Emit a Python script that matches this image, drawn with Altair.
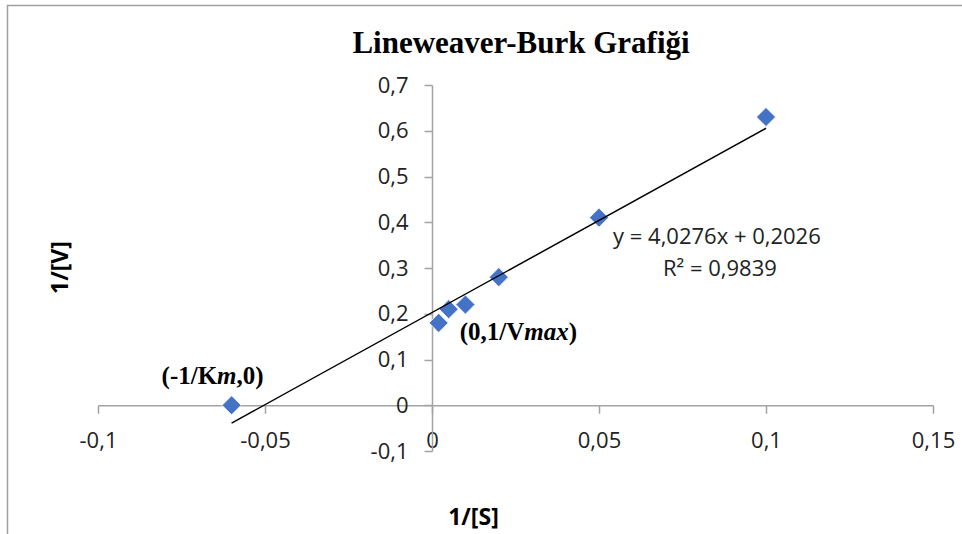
import altair as alt
import pandas as pd

# ---- values ----
inv_s = [-0.06, 0.002, 0.005, 0.01, 0.02, 0.05, 0.1]      # 1/[S]
inv_v = [0.0, 0.18, 0.21, 0.22, 0.28, 0.41, 0.63]         # 1/[V]
x_ticks = [-0.1, -0.05, 0, 0.05, 0.1, 0.15]
y_ticks = [-0.1, 0, 0.1, 0.2, 0.3, 0.4, 0.5, 0.6, 0.7]
eq_text = ["y = 4,0276x + 0,2026", "R² = 0,9839"]
km_parts = ["(-1/K", "m", ",0)"]
vmax_parts = ["(0,1/V", "max", ")"]
chart_title = ["Lineweaver-Burk Grafiği"]
x_title = "1/[S]"
y_title = "1/[V]"

df = pd.DataFrame({"x": inv_s, "y": inv_v})

W, H = 835, 366
XD = [-0.1, 0.15]
YD = [-0.1, 0.7]
x_axis_off = -H * (0 - YD[0]) / (YD[1] - YD[0])   # bottom axis moved up to y=0
y_axis_off = -W * (0 - XD[0]) / (XD[1] - XD[0])   # left axis moved right to x=0
x_group_y = H + x_axis_off
y_group_x = -y_axis_off

AXIS_GREY = "#a3a3a3"
TXT = "#222222"
label_expr = "replace(toString(datum.value), '.', ',')"

xs = alt.Scale(domain=XD, nice=False, zero=False)
ys = alt.Scale(domain=YD, nice=False, zero=False)

x_axis = alt.Axis(
    values=x_ticks, labelExpr=label_expr, offset=x_axis_off, orient="bottom",
    grid=False, domainColor=AXIS_GREY, tickColor=AXIS_GREY, domainWidth=1.5,
    tickWidth=1.5, tickSize=8, labelFont="Open Sans", labelFontSize=22,
    labelColor=TXT, labelPadding=17, labelFlush=False, labelOverlap=False,
    title=x_title, titleFont="Open Sans", titleFontSize=23, titleFontWeight="bold",
    titleColor="black", titleX=375, titleY=517 - 85 - x_group_y,
    titleAlign="center", titleBaseline="middle",
)
y_axis = alt.Axis(
    values=y_ticks, labelExpr=label_expr, offset=y_axis_off, orient="left",
    grid=False, domainColor=AXIS_GREY, tickColor=AXIS_GREY, domainWidth=1.5,
    tickWidth=1.5, tickSize=8, labelFont="Open Sans", labelFontSize=22,
    labelColor=TXT, labelPadding=16, labelFlush=False, labelOverlap=False,
    title=y_title, titleFont="Open Sans", titleFontSize=23, titleFontWeight="bold",
    titleColor="black", titleX=(60 - 98) - y_group_x, titleY=267 - 85,
    titleAlign="center", titleBaseline="middle", titleAngle=270,
)

base = alt.Chart(df)

frame = alt.Chart(alt.Data(values=[{}])).mark_rect(
    fill="transparent", stroke="#a0a0a0", strokeWidth=1.5
).encode(
    x=alt.value(-90.5), y=alt.value(-79.5), x2=alt.value(W + 60), y2=alt.value(H + 120)
)

title_mark = alt.Chart(pd.DataFrame({"t": chart_title})).mark_text(
    font="Liberation Serif", fontSize=31, fontWeight="bold", color="black",
    align="center", baseline="alphabetic"
).encode(x=alt.value(423), y=alt.value(-32), text="t:N")

points = base.mark_point(
    shape="diamond", filled=True, size=365, fill="#4472C4", stroke="white",
    strokeWidth=0.8, opacity=1
).encode(
    x=alt.X("x:Q", scale=xs, axis=x_axis),
    y=alt.Y("y:Q", scale=ys, axis=y_axis),
)

trend = base.transform_regression("x", "y").mark_line(
    color="black", strokeWidth=1.5
).encode(x=alt.X("x:Q", scale=xs), y=alt.Y("y:Q", scale=ys))

layers = [frame, title_mark, points, trend]

# equation of the trendline (Excel label)
eq_df = pd.DataFrame({"x": [0.0853, 0.0862], "y": [0.368, 0.298], "t": eq_text})
eq = alt.Chart(eq_df).mark_text(
    font="Open Sans", fontSize=22, color=TXT, align="center", baseline="middle"
).encode(x=alt.X("x:Q", scale=xs), y=alt.Y("y:Q", scale=ys), text="t:N")
layers.append(eq)

# annotations anchored at the data points
def annot(px, py, parts, dxs, dy):
    out = []
    for i, (p, dx) in enumerate(zip(parts, dxs)):
        d = pd.DataFrame({"x": [px], "y": [py], "t": [p]})
        out.append(alt.Chart(d).mark_text(
            font="Liberation Serif", fontSize=25, fontWeight="bold",
            fontStyle="italic" if i == 1 else "normal", color="black",
            align="left", baseline="alphabetic", dx=dx, dy=dy
        ).encode(x=alt.X("x:Q", scale=xs), y=alt.Y("y:Q", scale=ys), text="t:N"))
    return out

layers += annot(inv_s[0], inv_v[0], km_parts, [-70, -14.5, 5], -21)
layers += annot(inv_s[1], inv_v[1], vmax_parts, [21, 85.6, 130], 17)

chart = alt.layer(*layers).properties(
    width=W, height=H,
    padding={"left": 98, "top": 85, "right": 29, "bottom": 83},
    autosize=alt.AutoSizeParams(type="none"),
).configure(background="white").configure_view(stroke=None)

chart.save("out.html", embed_options={"renderer": "svg", "actions": False})
